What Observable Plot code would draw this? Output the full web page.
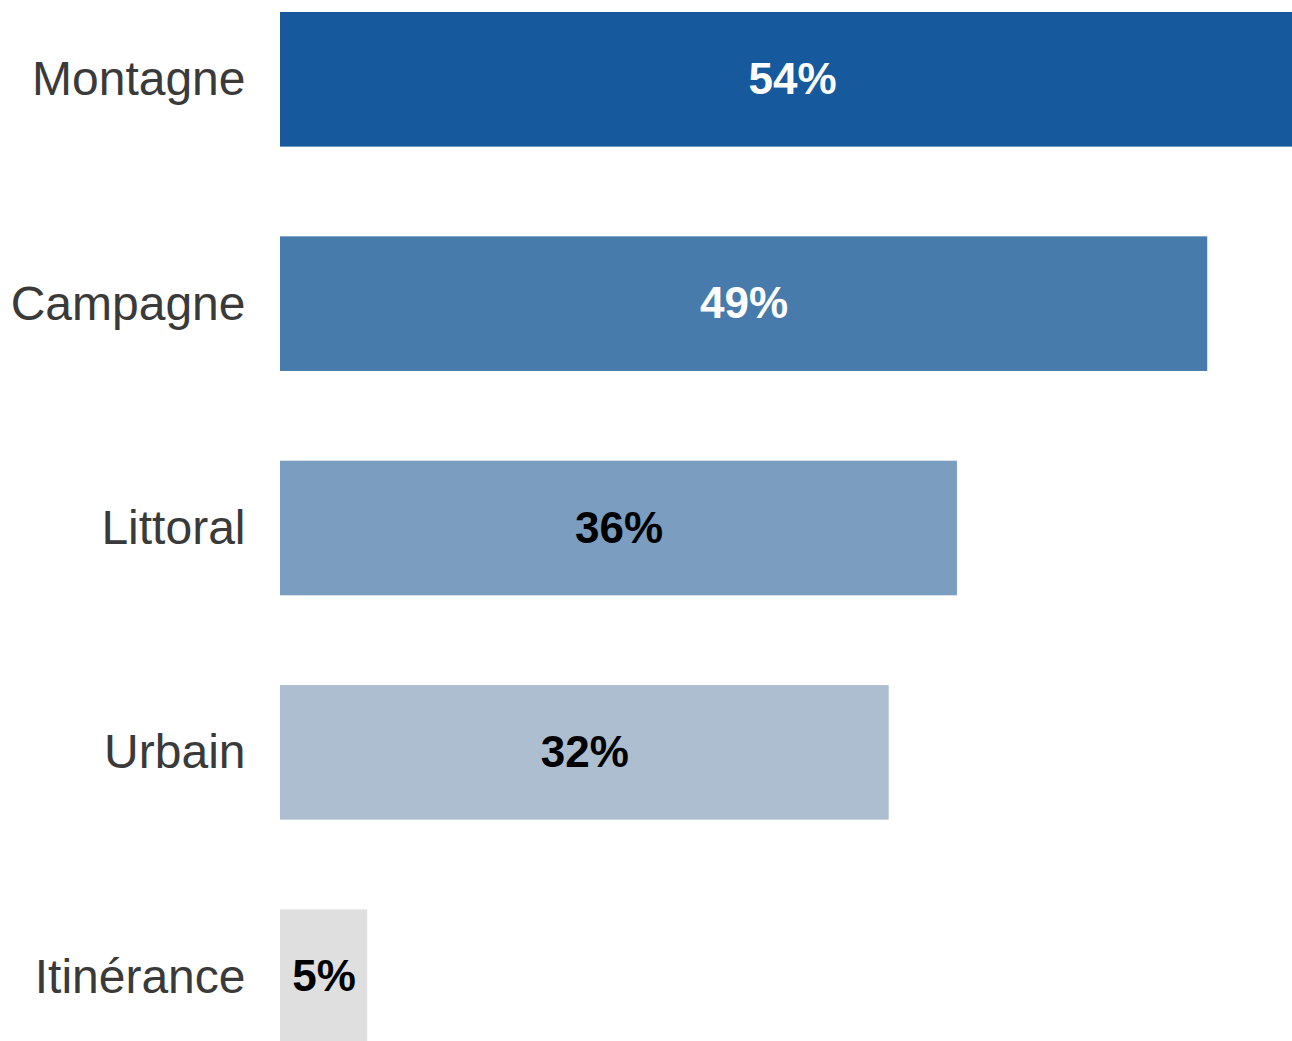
<!DOCTYPE html>
<html>
<head>
<meta charset="utf-8">
<script src="https://cdn.jsdelivr.net/npm/d3@7"></script>
<script src="https://cdn.jsdelivr.net/npm/@observablehq/plot@0.6"></script>
<style>
  html, body { margin: 0; padding: 0; background: #fff; overflow: hidden; }
  #chart svg { display: block; }
</style>
</head>
<body>
<div id="chart"></div>
<script>
const categories = ["Montagne", "Campagne", "Littoral", "Urbain", "Itinérance"];
const values = [54, 48.9, 35.7, 32.1, 4.6];
const valueLabels = ["54%", "49%", "36%", "32%", "5%"];
const barColors = ["#16599c", "#477bab", "#7a9dc0", "#adbed0", "#dfdfdf"];
const labelColors = ["#ffffff", "#ffffff", "#000000", "#000000", "#000000"];

const data = categories.map((c, i) => ({
  cat: c, value: values[i], label: valueLabels[i], color: barColors[i], tcolor: labelColors[i]
}));

const chart = Plot.plot({
  width: 1292,
  height: 1041,
  marginLeft: 280,
  marginRight: 0,
  marginTop: 12,
  marginBottom: -3,
  style: { fontFamily: "Liberation Sans, Arial, sans-serif", background: "#fff", overflow: "hidden" },
  x: { domain: [0, 53.37], axis: null },
  y: { domain: categories, paddingInner: 0.4, paddingOuter: 0, label: null, round: false },
  marks: [
    Plot.barX(data, { y: "cat", x: "value", fill: "color", clip: true }),
    Plot.text(data, {
      y: "cat", x: d => d.value / 2, text: "label", fill: "tcolor",
      fontSize: 44, fontWeight: "bold", textAnchor: "middle"
    }),
    Plot.axisY({
      tickSize: 0, tickPadding: 35, fontSize: 48, fill: "#3a3a3a", label: null
    })
  ]
});
document.getElementById("chart").appendChild(chart);
</script>
</body>
</html>
